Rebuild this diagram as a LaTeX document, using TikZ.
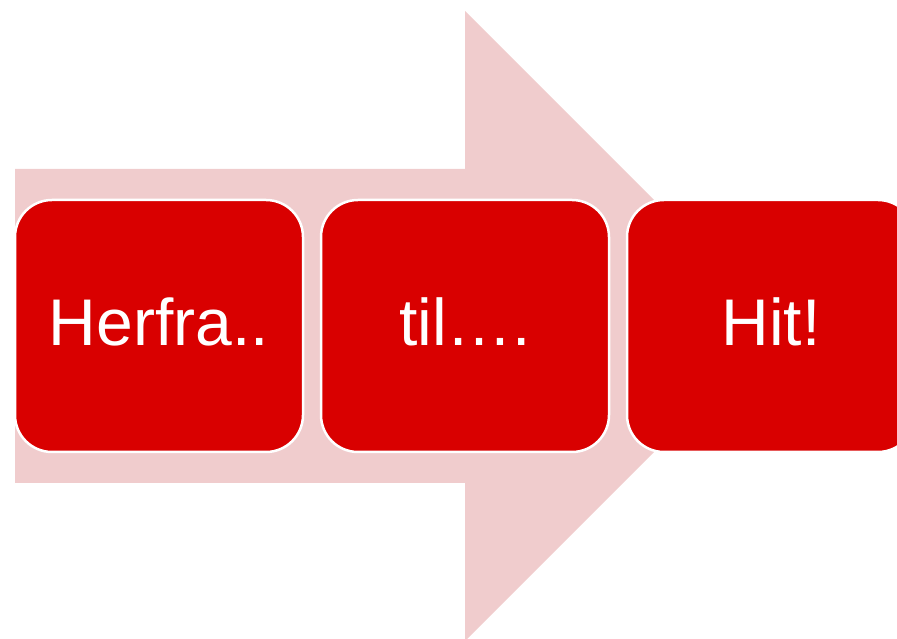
\documentclass[tikz,border=0pt]{standalone}
\usepackage{fontspec}
\setmainfont{Liberation Sans}
\definecolor{arrowpink}{RGB}{240,204,205}
\definecolor{boxred}{RGB}{217,0,0}
\begin{document}
\begin{tikzpicture}[x=1pt,y=1pt,
  stagebox/.style={rectangle, rounded corners=37pt, fill=boxred, draw=white,
    line width=2.5pt, minimum width=288pt, minimum height=252pt,
    inner sep=0pt, outer sep=0pt},
  stagelabel/.style={text=white, font=\fontsize{66}{70}\selectfont, anchor=base, inner sep=0pt}]
\useasboundingbox (0,0) rectangle (897,639);
\clip (0,0) rectangle (897,639);
% big background arrow
\fill[arrowpink] (15,470) -- (465,470) -- (465,628) -- (780,313) -- (465,-2) -- (465,156) -- (15,156) -- cycle;
% boxes
\node[stagebox] (b1) at (159,313) {};
\node[stagebox] (b2) at (465,313) {};
\node[stagebox] (b3) at (771,313) {};
% labels
\node[stagelabel] (t1) at ([yshift=-20pt]b1.center) {Herfra..};
\node[stagelabel] (t2) at ([yshift=-20pt]b2.center) {til….};
\node[stagelabel] (t3) at ([yshift=-20pt]b3.center) {Hit!};
\end{tikzpicture}
\end{document}
